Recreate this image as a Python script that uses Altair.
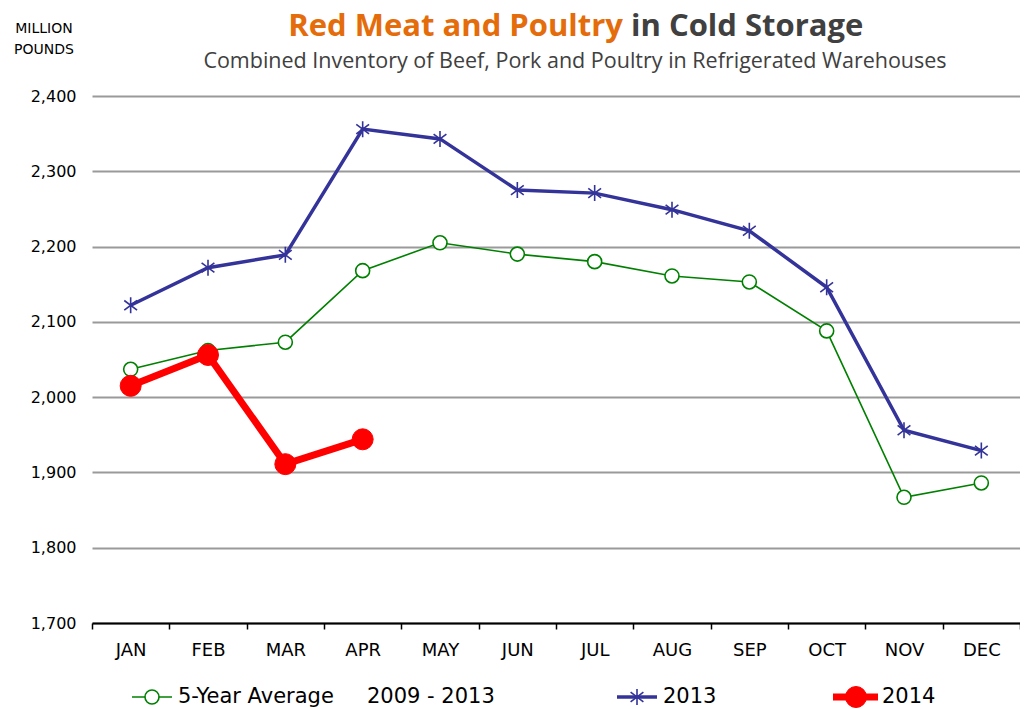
import altair as alt
import pandas as pd

months = ["JAN", "FEB", "MAR", "APR", "MAY", "JUN", "JUL", "AUG", "SEP", "OCT", "NOV", "DEC"]
avg_5yr = [2037, 2062, 2073, 2168, 2205, 2190, 2180, 2161, 2153, 2088, 1867, 1886]
y2013 = [2122, 2172, 2189, 2356, 2343, 2275, 2271, 2249, 2221, 2146, 1956, 1929]
y2014 = [2015, 2056, 1911, 1944]
y_ticks = [1700, 1800, 1900, 2000, 2100, 2200, 2300, 2400]

GREEN = "#008000"
BLUE = "#333399"
RED = "#FF0000"
ORANGE = "#E46C0A"
DARK = "#404040"
ASTERISK = "M0,-1L0,1M-0.8,-0.6L0.8,0.6M-0.8,0.6L0.8,-0.6"
AXFONT = "DejaVu Sans"

df_avg = pd.DataFrame({"month": months, "value": avg_5yr})
df_13 = pd.DataFrame({"month": months, "value": y2013})
df_14 = pd.DataFrame({"month": months[:len(y2014)], "value": y2014})

x_enc = alt.X(
    "month:N",
    sort=months,
    bandPosition=0.5,
    scale=alt.Scale(domain=months, type="band", paddingInner=0, paddingOuter=0),
    axis=alt.Axis(
        title=None, tickBand="extent", domainColor="black", domainWidth=2,
        tickColor="black", tickWidth=1.5, tickSize=6, labelFontSize=18,
        labelColor="black", labelFont=AXFONT, labelPadding=12, grid=False,
        labelAngle=0,
    ),
)
y_enc = alt.Y(
    "value:Q",
    scale=alt.Scale(domain=[1700, 2400], nice=False, zero=False),
    axis=alt.Axis(
        title=None, values=y_ticks, format=",.0f", domain=False, ticks=False,
        grid=True, gridColor="#9A9A9A", gridWidth=2, labelFontSize=16,
        labelColor="black", labelFont=AXFONT, labelPadding=16,
    ),
)

def series(df, color, width, point_kwargs):
    base = alt.Chart(df).encode(x=x_enc, y=y_enc)
    line = base.mark_line(color=color, strokeWidth=width)
    pts = base.mark_point(**point_kwargs)
    return [line, pts]

layers = []
layers += series(df_avg, GREEN, 1.6, dict(shape="circle", filled=True, fill="white",
                                          stroke=GREEN, strokeWidth=1.6, size=196, opacity=1))
layers += series(df_13, BLUE, 3.5, dict(shape=ASTERISK, filled=False, stroke=BLUE,
                                        strokeWidth=1.6, size=256, opacity=1))
layers += series(df_14, RED, 7, dict(shape="circle", filled=True, fill=RED, stroke=RED,
                                     strokeWidth=1, size=441, opacity=1))

one = alt.Data(values=[{}])

def txt(text, x, y, **kw):
    return alt.Chart(one).mark_text(text=text, **kw).encode(x=alt.value(x), y=alt.value(y))

def rule(x1, x2, y, color, width):
    return alt.Chart(one).mark_rule(color=color, strokeWidth=width).encode(
        x=alt.value(x1), x2=alt.value(x2), y=alt.value(y))

def marker(x, y, **kw):
    return alt.Chart(one).mark_point(opacity=1, **kw).encode(x=alt.value(x), y=alt.value(y))

# plot area origin on the page
OX = 92
OY = 96
# Title & subtitle
layers.append(txt("Red Meat and Poultry", 623 - OX, 36 - OY, font="Open Sans", fontSize=31,
                  fontWeight="bold", color=ORANGE, align="right", baseline="alphabetic"))
layers.append(txt("in Cold Storage", 631 - OX, 36 - OY, font="Open Sans", fontSize=31,
                  fontWeight="bold", color=DARK, align="left", baseline="alphabetic"))
layers.append(txt("Combined Inventory of Beef, Pork and Poultry in Refrigerated Warehouses",
                  575 - OX, 68 - OY, font="Open Sans", fontSize=21.5, color=DARK, align="center",
                  baseline="alphabetic"))
layers.append(txt("MILLION", 44 - OX, 33 - OY, font=AXFONT, fontSize=14, color="black",
                  align="center", baseline="alphabetic"))
layers.append(txt("POUNDS", 44 - OX, 54 - OY, font=AXFONT, fontSize=14, color="black",
                  align="center", baseline="alphabetic"))

# Legend
ly = 697 - OY
layers.append(rule(132 - OX, 172 - OX, ly, GREEN, 1.6))
layers.append(marker(152 - OX, ly, shape="circle", filled=True, fill="white", stroke=GREEN,
                     strokeWidth=1.6, size=196))
layers.append(txt("5-Year Average", 178 - OX, ly, font=AXFONT, fontSize=21, color="black",
                  align="left", baseline="middle"))
layers.append(txt("2009 - 2013", 367 - OX, ly, font=AXFONT, fontSize=21, color="black",
                  align="left", baseline="middle"))
layers.append(rule(617 - OX, 657 - OX, ly, BLUE, 3.5))
layers.append(marker(637 - OX, ly, shape=ASTERISK, filled=False, stroke=BLUE, strokeWidth=1.6,
                     size=256))
layers.append(txt("2013", 663 - OX, ly, font=AXFONT, fontSize=21, color="black",
                  align="left", baseline="middle"))
layers.append(rule(833 - OX, 878 - OX, ly, RED, 7))
layers.append(marker(856 - OX, ly, shape="circle", filled=True, fill=RED, stroke=RED,
                     strokeWidth=1, size=441))
layers.append(txt("2014", 882 - OX, ly, font=AXFONT, fontSize=21, color="black",
                  align="left", baseline="middle"))

chart = alt.layer(*layers).properties(
    width=928, height=527,
    autosize=alt.AutoSizeParams(type="none"),
    padding={"left": OX - 8, "top": OY - 8, "right": 0, "bottom": 86},
    background="white",
).configure_view(stroke=None)

chart.save("out.html", embed_options={"renderer": "svg", "actions": False})
